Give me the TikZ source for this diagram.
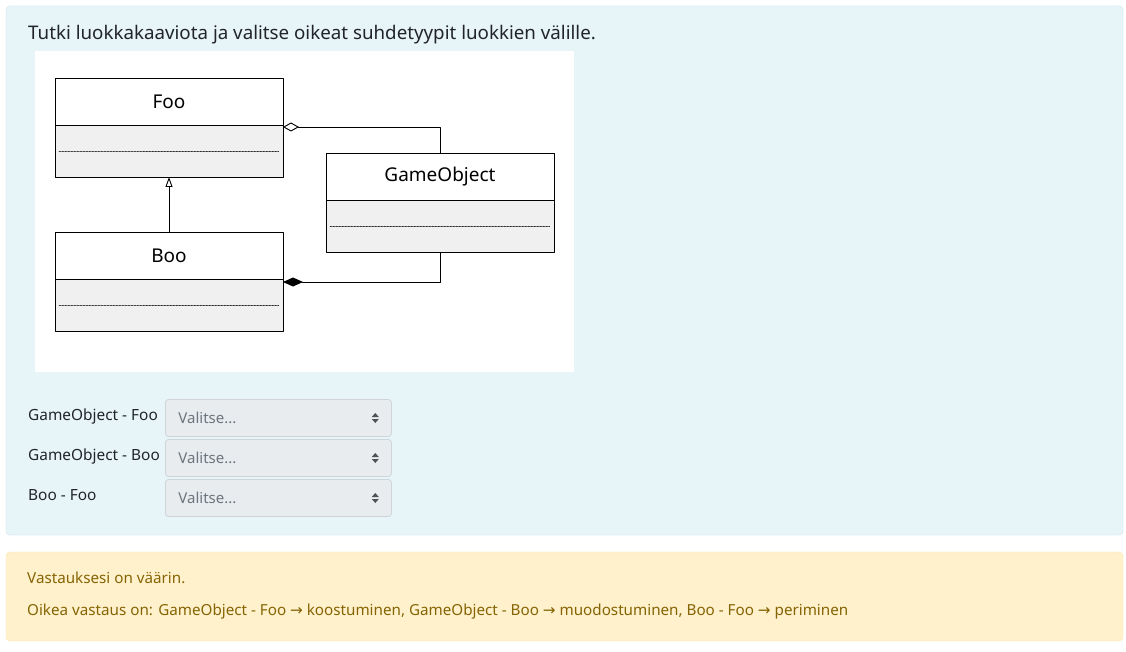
\documentclass[tikz,border=0pt]{standalone}
\usepackage{fontspec}
\setmainfont{Noto Sans}
\newfontfamily\arrowfont{DejaVu Sans}
\usetikzlibrary{arrows.meta,positioning}

\definecolor{infofill}{HTML}{E7F5F8}
\definecolor{infoline}{HTML}{C6E3EA}
\definecolor{warnfill}{HTML}{FFF1CB}
\definecolor{warnline}{HTML}{FBE7B0}
\definecolor{warntext}{HTML}{856404}
\definecolor{umlgrey}{HTML}{F0F0F0}
\definecolor{selfill}{HTML}{E9ECEF}
\definecolor{selline}{HTML}{CED4DA}
\definecolor{seltext}{HTML}{6C757D}
\definecolor{bodytext}{HTML}{212529}

\newcommand{\selarrows}[1]{%
  \fill[bodytext!80] ([xshift=-20pt,yshift=1pt]#1.east) -- ++(7,0) -- ++(-3.5,-4) -- cycle;
  \fill[bodytext!80] ([xshift=-20pt,yshift=-1pt]#1.east) -- ++(7,0) -- ++(-3.5,4) -- cycle;}

\begin{document}
\begin{tikzpicture}[line cap=round,line join=round,x=1pt,y=-1pt,
    classname/.style={draw,fill=white,line width=0.9pt,outer sep=0pt,inner sep=0pt,
      minimum width=228pt,minimum height=47pt,font=\fontsize{19}{22}\selectfont},
    classbody/.style={draw,fill=umlgrey,line width=0.9pt,outer sep=0pt,inner sep=0pt,
      minimum width=228pt,minimum height=52pt},
    umlline/.style={line width=0.9pt,line cap=butt},
    selectbox/.style={draw=selline,fill=selfill,rounded corners=3pt,line width=0.8pt,
      minimum height=37pt,text width=200pt,inner xsep=13pt,align=left,anchor=west,
      text=seltext,font=\fontsize{15}{18}\selectfont},
    pairlabel/.style={anchor=base west,inner sep=0pt,text=bodytext,font=\fontsize{15.4}{18}\selectfont},
    warnlabel/.style={anchor=base west,inner sep=0pt,text=warntext,font=\fontsize{15.2}{18}\selectfont}]
  \useasboundingbox[fill=white] (0,0) rectangle (1126,652);
  \draw[fill=infofill,draw=infoline,rounded corners=4pt] (6,6) rectangle (1123,535);
  \draw[fill=warnfill,draw=warnline,rounded corners=4pt] (6,552) rectangle (1123,641);
  \node[anchor=base west,inner sep=0pt,text=bodytext,font=\fontsize{18.75}{22}\selectfont] (title) at (28,40)
    {Tutki luokkakaaviota ja valitse oikeat suhdetyypit luokkien välille.};
  \fill[white] (35,51) rectangle (574,372);

  % classes
  \node[classname] (fooname) at (169,101.5) {Foo};
  \node[classbody,below=0pt of fooname] (foobody) {};
  \node[classname] (goname) at (440,176.5) {GameObject};
  \node[classbody,below=0pt of goname] (gobody) {};
  \node[classname] (booname) at (169,255.5) {Boo};
  \node[classbody,below=0pt of booname] (boobody) {};
  \foreach \c in {foobody,gobody,boobody}
    \draw[line width=0.5pt,densely dotted] ([xshift=4pt]\c.west) -- ([xshift=-4pt]\c.east);

  % relations
  \draw[umlline,-{Triangle[open,length=10pt,width=7pt]}] (booname.north) -- (foobody.south);
  \draw[umlline,-{Diamond[open,fill=white,length=16pt,width=9pt]}] (goname.north) |- ([yshift=-2pt]foobody.north east);
  \draw[umlline,-{Diamond[fill=black,length=20pt,width=9pt]}] (gobody.south) |- ([yshift=-3pt]boobody.north east);

  % choices
  \node[pairlabel] (pair1) at (28,420) {GameObject - Foo};
  \node[pairlabel] (pair2) at (28,460) {GameObject - Boo};
  \node[pairlabel] (pair3) at (28,500) {Boo - Foo};
  \node[selectbox] (sel1) at (165,418) {Valitse...};
  \node[selectbox] (sel2) at (165,458) {Valitse...};
  \node[selectbox] (sel3) at (165,498) {Valitse...};
  \selarrows{sel1}
  \selarrows{sel2}
  \selarrows{sel3}

  % feedback
  \node[warnlabel] (wrong) at (27,583) {Vastauksesi on väärin.};
  \node[warnlabel] (answer) at (27,615) {Oikea vastaus on: GameObject - Foo {\arrowfont →} koostuminen,
    GameObject - Boo {\arrowfont →} muodostuminen, Boo - Foo {\arrowfont →} periminen};
\end{tikzpicture}
\end{document}
